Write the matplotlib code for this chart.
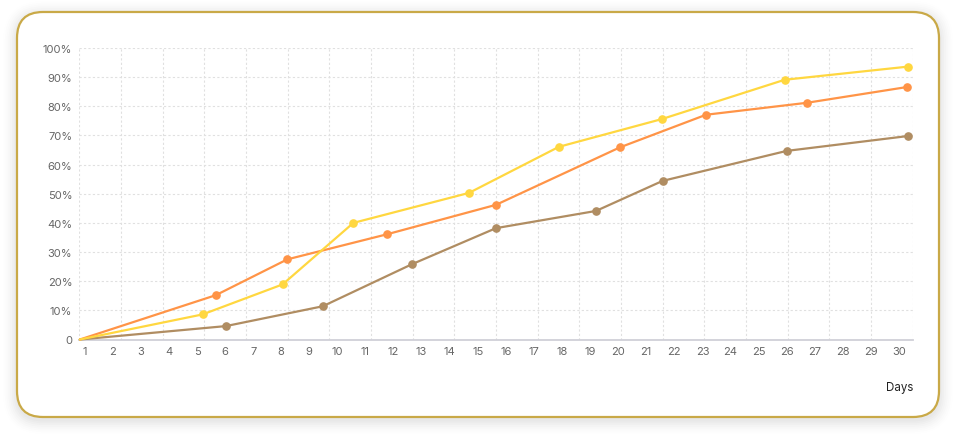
import matplotlib
matplotlib.use("Agg")
import matplotlib.pyplot as plt
from matplotlib.patches import FancyBboxPatch
import numpy as np

# ---- data (x in days, y in %) ----
day_labels = [str(d) for d in range(1, 31)]
y_labels = ["0", "10%", "20%", "30%", "40%", "50%", "60%", "70%", "80%", "90%", "100%"]

orange_x = [0.83, 5.67, 8.22, 11.77, 15.65, 20.06, 23.13, 26.72, 30.28]
orange_y = [0, 15.2, 27.5, 36.1, 46.2, 65.9, 77.1, 81.2, 86.6]

yellow_x = [0.83, 5.20, 8.05, 10.57, 14.69, 17.89, 21.55, 25.93, 30.31]
yellow_y = [0, 8.6, 18.9, 40.0, 50.3, 66.1, 75.6, 89.1, 93.6]

brown_x = [0.83, 6.03, 9.48, 12.65, 15.65, 19.21, 21.58, 26.00, 30.32]
brown_y = [0, 4.6, 11.4, 25.8, 38.2, 44.1, 54.4, 64.7, 69.8]

series = [
    (brown_x, brown_y, "#B08D62"),
    (orange_x, orange_y, "#FF9447"),
    (yellow_x, yellow_y, "#FFD740"),
]

W, H = 956, 439
fig = plt.figure(figsize=(W / 100, H / 100), dpi=100)
fig.patch.set_facecolor("white")

# ---- background card with shadow ----
bg = fig.add_axes([0, 0, 1, 1])
bg.set_xlim(0, W)
bg.set_ylim(H, 0)
bg.axis("off")
for i, a in enumerate([0.016, 0.016, 0.014, 0.012, 0.010, 0.008, 0.006, 0.005]):
    g = 1.5 + i * 1.8
    bg.add_patch(FancyBboxPatch((17 - g, 13 - g + 3), 922 + 2 * g, 405 + 2 * g,
                                boxstyle="round,pad=0,rounding_size=%f" % (26 + g),
                                facecolor="black", edgecolor="none", alpha=a))
bg.add_patch(FancyBboxPatch((17, 13), 922, 405,
                            boxstyle="round,pad=0,rounding_size=26",
                            facecolor="white", edgecolor="#C9A947", linewidth=1.6))

# ---- chart ----
xmin, xmax = 0.81, 30.49
ax = fig.add_axes([79.3 / W, (H - 340.5) / H, 833.4 / W, 291.5 / H])
ax.set_facecolor("none")
ax.set_xlim(xmin, xmax)
ax.set_ylim(0, 100)

ax.set_xticks(range(1, 31))
ax.set_xticklabels(day_labels)
ax.set_xticks(np.linspace(xmin, xmax, 21), minor=True)
ax.set_yticks(range(0, 101, 10))
ax.set_yticklabels(y_labels)

ax.grid(which="minor", axis="x", color="#e0e0e0", linestyle=(0, (2, 2)), linewidth=0.8)
ax.grid(which="major", axis="y", color="#e0e0e0", linestyle=(0, (2, 2)), linewidth=0.8)
ax.grid(which="major", axis="x", visible=False)

for s in ["top", "right", "left"]:
    ax.spines[s].set_visible(False)
ax.spines["bottom"].set_color("#d0d0d8")
ax.spines["bottom"].set_linewidth(1.3)

ax.tick_params(axis="both", which="both", length=0)
ax.tick_params(axis="x", pad=5, labelsize=8, labelcolor="#666666")
ax.tick_params(axis="y", pad=5, labelsize=8, labelcolor="#666666")
for lab in ax.get_xticklabels() + ax.get_yticklabels():
    lab.set_fontfamily("Inter")

for xs, ys, c in series:
    ax.plot(xs[1:], ys[1:], linestyle="none", marker="o", markersize=5.2, color=c, zorder=4,
            clip_on=False)
    ax.plot(xs, ys, color=c, linewidth=1.6, zorder=3, clip_on=False, solid_capstyle="round")

fig.text(913 / W, 1 - 388 / H, "Days", ha="right", va="center", fontsize=8.3,
         color="#222222", fontfamily="Inter")

fig.savefig("out.png", dpi=100)
